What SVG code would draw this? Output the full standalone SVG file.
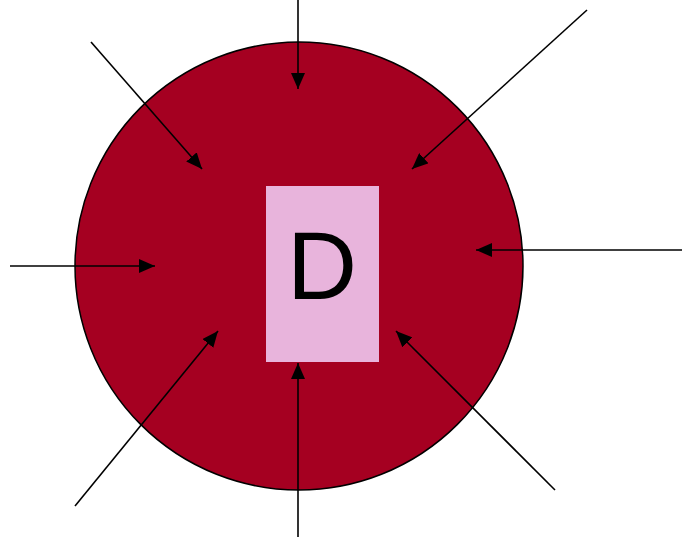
<svg xmlns="http://www.w3.org/2000/svg" width="682" height="537" viewBox="0 0 682 537">
<defs>
<marker id="ah" viewBox="0 0 16 14" refX="16" refY="7" markerWidth="16" markerHeight="14" markerUnits="userSpaceOnUse" orient="auto">
<path d="M0,0 L16,7 L0,14 Z" fill="#000"/>
</marker>
<style>
.c{stroke:#000;stroke-width:1.6;fill:none;marker-end:url(#ah)}
</style>
</defs>
<rect width="682" height="537" fill="#fff"/>
<g id="circle"><circle cx="299" cy="266" r="224" fill="#a50021" stroke="#000" stroke-width="1.5"/></g>
<g id="nodeD">
<rect x="266" y="186" width="113" height="176" fill="#e8b4dc"/>
<text x="322" y="299" font-family="Liberation Sans, Arial, sans-serif" font-size="97" text-anchor="middle" fill="#000">D</text>
</g>
<g id="connectors">
<line class="c" x1="298" y1="0" x2="298" y2="89"/>
<line class="c" x1="91" y1="42" x2="202" y2="169"/>
<line class="c" x1="587" y1="10" x2="412" y2="169"/>
<line class="c" x1="10" y1="266" x2="155" y2="266"/>
<line class="c" x1="682" y1="250" x2="476" y2="250"/>
<line class="c" x1="75" y1="506" x2="218" y2="331"/>
<line class="c" x1="298" y1="537" x2="298" y2="363"/>
<line class="c" x1="555" y1="490" x2="396" y2="331"/>
</g>
</svg>
